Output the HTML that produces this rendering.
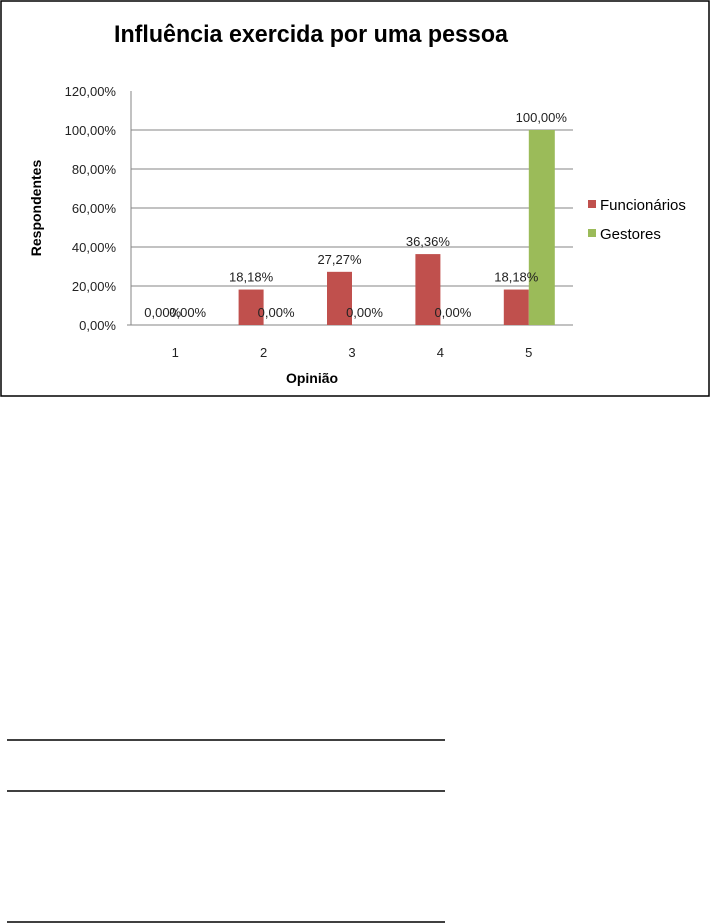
<!DOCTYPE html>
<html><head><meta charset="utf-8"><style>
html,body{margin:0;padding:0;background:#fff;}
svg{display:block;font-family:"Liberation Sans",sans-serif;}
</style></head><body>
<svg width="712" height="924" viewBox="0 0 712 924">
<rect x="1" y="1" width="708" height="395" fill="#fff" stroke="#000" stroke-width="1.5"/>
<text x="114" y="42" font-size="24" font-weight="bold" textLength="394" lengthAdjust="spacingAndGlyphs">Influência exercida por uma pessoa</text>
<g id="grid"></g>
<g id="yticks"></g>
<g id="bars"></g>
<g id="xticks"></g>
<text transform="translate(41,208) rotate(-90)" text-anchor="middle" font-size="14" font-weight="bold">Respondentes</text>
<text x="312" y="383" text-anchor="middle" font-size="14" font-weight="bold">Opinião</text>
<g>
<rect x="588" y="200" width="8" height="8" fill="#c0504d"/>
<text x="600" y="210" font-size="15">Funcionários</text>
<rect x="588" y="229" width="8" height="8" fill="#9bbb59"/>
<text x="600" y="239" font-size="15">Gestores</text>
</g>
<line x1="7" y1="740" x2="445" y2="740" stroke="#000" stroke-width="1.5"/>
<line x1="7" y1="791" x2="445" y2="791" stroke="#000" stroke-width="1.5"/>
<line x1="7" y1="922" x2="445" y2="922" stroke="#000" stroke-width="1.5"/>
</svg>
<script>
const categories = ["1","2","3","4","5"];
const funcionarios = [0, 18.18, 27.27, 36.36, 18.18];
const gestores = [0, 0, 0, 0, 100];
const yTicks = [0, 20, 40, 60, 80, 100, 120];
const NS = "http://www.w3.org/2000/svg";
const X0 = 131, X1 = 573, Y0 = 325, Y1 = 91, YMAX = 120;
const bandW = (X1 - X0) / categories.length;
function yScale(v){ return Y0 - (v / YMAX) * (Y0 - Y1); }
function xCenter(i){ return X0 + bandW * (i + 0.5); }
function fmt(v){ return v.toFixed(2).replace(".", ",") + "%"; }
function mk(tag, attrs, parent){ const e = document.createElementNS(NS, tag); for (const k in attrs) e.setAttribute(k, attrs[k]); parent.appendChild(e); return e; }
const grid = document.getElementById("grid"), yt = document.getElementById("yticks"), bars = document.getElementById("bars"), xt = document.getElementById("xticks");
yTicks.forEach(t => {
  const y = yScale(t);
  if (t > 0 && t < YMAX) {
    const l = mk("line", {x1: X0, x2: X1, y1: y, y2: y, stroke: "#868686", "stroke-width": 1}, grid);
    
    
  }
  const tx = mk("text", {x: 116, y: y + 5, "text-anchor": "end", "font-size": 13, fill: "#222"}, yt);
  tx.textContent = fmt(t);
  
  
});
const ax = mk("line", {x1: X0, x2: X0, y1: Y1, y2: Y0, stroke: "#868686", "stroke-width": 1}, grid);


const bx = mk("line", {x1: X0 - 4, x2: X1, y1: Y0, y2: Y0, stroke: "#868686", "stroke-width": 1}, grid);


const BW = 25;
categories.forEach((c, i) => {
  const cx = xCenter(i);
  const fv = funcionarios[i], gv = gestores[i];
  const r = mk("rect", {x: cx - BW, y: yScale(fv), width: BW, height: Y0 - yScale(fv), fill: "#c0504d"}, bars);
  
  
  const g = mk("rect", {x: cx, y: yScale(gv), width: BW + 1, height: Y0 - yScale(gv), fill: "#9bbb59"}, bars);
  
  
  const l1 = mk("text", {x: cx - BW / 2, y: yScale(fv) - 8, "text-anchor": "middle", "font-size": 13, fill: "#222"}, bars);
  l1.textContent = fmt(fv);
  
  
  const l2 = mk("text", {x: cx + BW / 2, y: yScale(gv) - 8, "text-anchor": "middle", "font-size": 13, fill: "#222"}, bars);
  l2.textContent = fmt(gv);
  
  
  const xl = mk("text", {x: cx, y: 357, "text-anchor": "middle", "font-size": 13, fill: "#222"}, xt);
  xl.textContent = c;
  
  
});
</script>
</body></html>
